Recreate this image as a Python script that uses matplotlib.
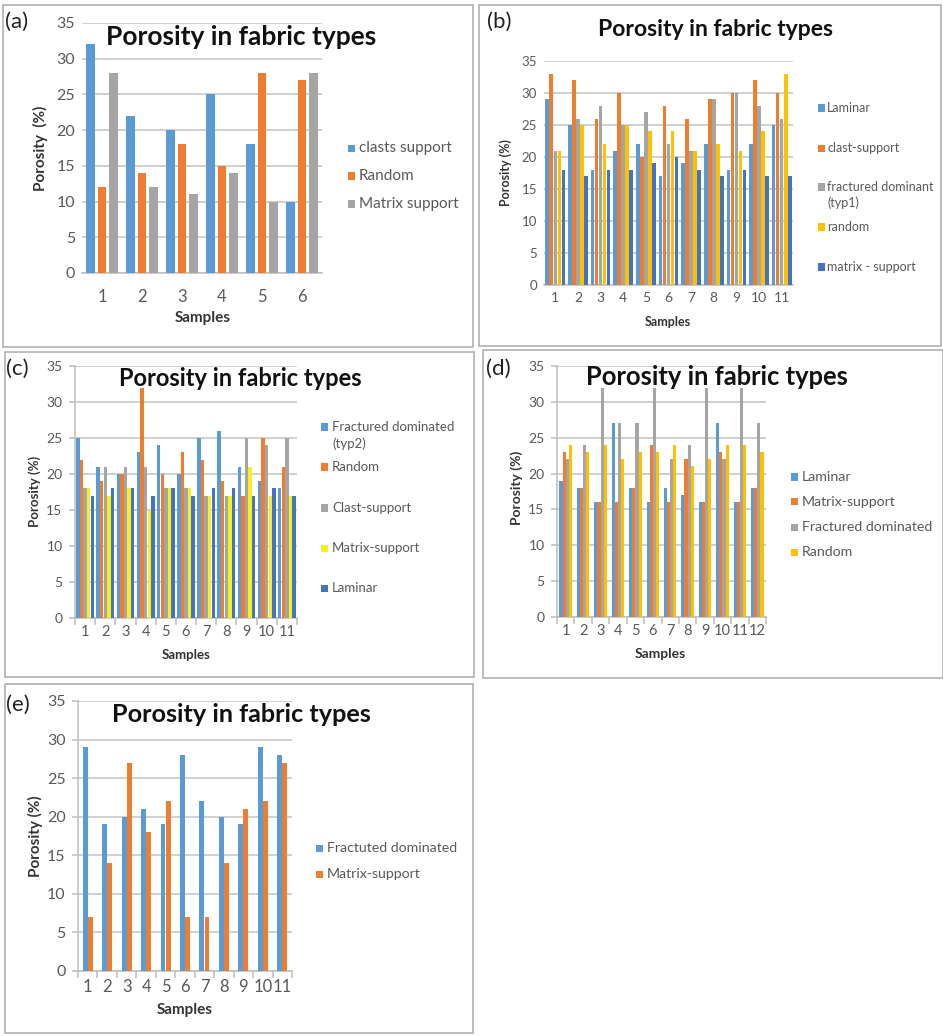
import matplotlib
matplotlib.use('Agg')
import matplotlib.pyplot as plt
from matplotlib.patches import Rectangle
import numpy as np

W, H = 943, 1036
plt.rcParams['font.family'] = ['Lato', 'DejaVu Sans']

TITLE = 'Porosity in fabric types'

# ---- (a) ----
a_samples = ['1', '2', '3', '4', '5', '6']
a_labels = ['clasts support', 'Random', 'Matrix support']
a_clasts = [32, 22, 20, 25, 18, 10]
a_random = [12, 14, 18, 15, 28, 27]
a_matrix = [28, 12, 11, 14, 10, 28]

# ---- (b) ----
b_samples = [str(i) for i in range(1, 12)]
b_labels = ['Laminar', 'clast-support', 'fractured dominant\n(typ1)', 'random', 'matrix - support']
b_laminar = [29, 25, 18, 21, 22, 17, 19, 22, 18, 22, 25]
b_clast = [33, 32, 26, 30, 20, 28, 26, 29, 30, 32, 30]
b_fract = [21, 26, 28, 25, 27, 22, 21, 29, 30, 28, 26]
b_random = [21, 25, 22, 25, 24, 24, 21, 22, 21, 24, 33]
b_matrix = [18, 17, 18, 18, 19, 20, 18, 17, 18, 17, 17]

# ---- (c) ----
c_samples = [str(i) for i in range(1, 12)]
c_labels = ['Fractured dominated\n(typ2)', 'Random', 'Clast-support', 'Matrix-support', 'Laminar']
c_fract = [25, 21, 20, 23, 24, 20, 25, 26, 21, 19, 18]
c_random = [22, 19, 20, 32, 20, 23, 22, 19, 17, 25, 21]
c_clast = [18, 21, 21, 21, 18, 18, 17, 17, 25, 24, 25]
c_matrix = [18, 17, 18, 15, 18, 18, 17, 17, 21, 17, 17]
c_laminar = [17, 18, 18, 17, 18, 17, 18, 18, 17, 18, 17]

# ---- (d) ----
d_samples = [str(i) for i in range(1, 13)]
d_labels = ['Laminar', 'Matrix-support', 'Fractured dominated', 'Random']
d_laminar = [19, 18, 16, 27, 18, 16, 18, 17, 16, 27, 16, 18]
d_matrix = [23, 18, 16, 16, 18, 24, 16, 22, 16, 23, 16, 18]
d_fract = [22, 24, 32, 27, 27, 32, 22, 24, 32, 22, 32, 27]
d_random = [24, 23, 24, 22, 23, 23, 24, 21, 22, 24, 24, 23]

# ---- (e) ----
e_samples = [str(i) for i in range(1, 12)]
e_labels = ['Fractuted dominated', 'Matrix-support']
e_fract = [29, 19, 20, 21, 19, 28, 22, 20, 19, 29, 28]
e_matrix = [7, 14, 27, 18, 22, 7, 7, 14, 21, 22, 27]

BLUE, ORANGE, GREY, GOLD, NAVY, YELLOW = '#5B9BD5', '#ED7D31', '#A5A5A5', '#FFC000', '#4472C4', '#F7F01E'
TXT = '#595959'

fig = plt.figure(figsize=(W / 100, H / 100), dpi=100)


def fx(x):
    return x / W


def fy(y):
    return 1 - y / H


def frame(x0, y0, x1, y1):
    fig.patches.append(Rectangle((fx(x0), fy(y1)), (x1 - x0) / W, (y1 - y0) / H,
                                 transform=fig.transFigure, fill=False,
                                 edgecolor='#B0B0B0', lw=1.2))


def panel(tag, frm, plot, samples, series, labels, colors, width, pitch,
          tag_xy, title_xy, title_fs, ylab, ylab_xy, xlab_xy, lab_fs,
          tick_fs, tick_y, legend_sq_x, legend_tx, legend_ys, legend_fs,
          left_axis, cat_ticks):
    frame(*frm)
    x0, y0, x1, y1 = plot
    ax = fig.add_axes([fx(x0), fy(y1), (x1 - x0) / W, (y1 - y0) / H])
    n = len(samples)
    k = len(series)
    x = np.arange(1, n + 1)
    for i, (vals, col) in enumerate(zip(series, colors)):
        off = (i - (k - 1) / 2) * pitch
        ax.bar(x + off, vals, width=width, color=col, linewidth=0, zorder=3)
    ax.set_xlim(0.5, n + 0.5)
    ax.set_ylim(0, 35)
    ax.set_yticks(range(0, 36, 5))
    ax.grid(axis='y', color='#C4C4C4', lw=1.1, zorder=0)
    for s in ('top', 'right'):
        ax.spines[s].set_visible(False)
    ax.spines['bottom'].set_color('#BDBDBD')
    ax.spines['bottom'].set_linewidth(1.1)
    if left_axis:
        ax.spines['left'].set_color('#BDBDBD')
        ax.spines['left'].set_linewidth(1.1)
        ax.tick_params(axis='y', length=4, color='#BDBDBD', width=1.1)
    else:
        ax.spines['left'].set_visible(False)
        ax.tick_params(axis='y', length=0)
    ax.tick_params(axis='y', labelsize=tick_fs, labelcolor=TXT, pad=5)
    ax.set_xticks(x)
    ax.set_xticklabels([])
    if cat_ticks:
        ax.set_xticks(np.arange(0.5, n + 1, 1.0), minor=True)
        ax.tick_params(axis='x', which='minor', length=5, color='#BDBDBD', width=1.1)
    ax.tick_params(axis='x', which='major', length=0)
    ax.set_facecolor('none')
    for xi, lab in zip(x, samples):
        xp = ax.transData.transform((xi, 0))[0]
        fig.text(xp / W, fy(tick_y), lab, ha='center', va='center',
                 fontsize=tick_fs + 0.5, color=TXT)
    # panel tag, title, axis titles
    fig.text(fx(tag_xy[0]), fy(tag_xy[1]), tag, ha='left', va='center', fontsize=16, color='#222222')
    fig.text(fx(title_xy[0]), fy(title_xy[1]), TITLE, ha='center', va='center',
             fontsize=title_fs, fontweight='bold', color='#111111')
    fig.text(fx(ylab_xy[0]), fy(ylab_xy[1]), ylab, ha='center', va='center',
             rotation=90, fontsize=lab_fs, fontweight='bold', color='#333333')
    fig.text(fx(xlab_xy[0]), fy(xlab_xy[1]), 'Samples', ha='center', va='center',
             fontsize=lab_fs, fontweight='bold', color='#333333')
    # legend
    sq = 7
    for lab, col, ly in zip(labels, colors, legend_ys):
        fig.patches.append(Rectangle((fx(legend_sq_x - sq / 2), fy(ly + sq / 2)), sq / W, sq / H,
                                     transform=fig.transFigure, color=col, lw=0))
        lines = lab.split('\n')
        lh = legend_fs * 1.75
        for j, ln in enumerate(lines):
            fig.text(fx(legend_tx), fy(ly + j * lh), ln, ha='left', va='center',
                     fontsize=legend_fs, color=TXT)
    return ax


panel('(a)', (3, 5, 473, 347), (82, 23, 322, 273), a_samples,
      [a_clasts, a_random, a_matrix], a_labels, [BLUE, ORANGE, GREY],
      width=0.22, pitch=0.28, tag_xy=(5, 22), title_xy=(241, 37), title_fs=19,
      ylab='Porosity  (%)', ylab_xy=(40, 148), xlab_xy=(203, 318), lab_fs=11,
      tick_fs=11.5, tick_y=297, legend_sq_x=351, legend_tx=359,
      legend_ys=[148, 176, 204], legend_fs=11, left_axis=False, cat_ticks=False)

panel('(b)', (479, 5, 941, 346), (544, 61, 793, 285), b_samples,
      [b_laminar, b_clast, b_fract, b_random, b_matrix], b_labels,
      [BLUE, ORANGE, GREY, GOLD, NAVY],
      width=0.16, pitch=0.178, tag_xy=(487, 22), title_xy=(715, 30), title_fs=16.5,
      ylab='Porosity (%)', ylab_xy=(506, 173), xlab_xy=(668, 322), lab_fs=9,
      tick_fs=9.5, tick_y=298, legend_sq_x=821, legend_tx=827,
      legend_ys=[108, 148, 187, 227, 267], legend_fs=9, left_axis=False, cat_ticks=False)

panel('(c)', (5, 352, 474, 677), (75, 366, 297, 618), c_samples,
      [c_fract, c_random, c_clast, c_matrix, c_laminar], c_labels,
      [BLUE, ORANGE, GREY, YELLOW, NAVY],
      width=0.17, pitch=0.178, tag_xy=(6, 369), title_xy=(240, 378), title_fs=17,
      ylab='Porosity (%)', ylab_xy=(35, 491), xlab_xy=(186, 655), lab_fs=9.5,
      tick_fs=10, tick_y=632, legend_sq_x=324, legend_tx=332,
      legend_ys=[427, 467, 508, 548, 588], legend_fs=9.5, left_axis=True, cat_ticks=True)

panel('(d)', (483, 350, 943, 678), (557, 366, 766, 617), d_samples,
      [d_laminar, d_matrix, d_fract, d_random], d_labels,
      [BLUE, ORANGE, GREY, GOLD],
      width=0.18, pitch=0.18, tag_xy=(486, 369), title_xy=(717, 377), title_fs=18.4,
      ylab='Porosity (%)', ylab_xy=(517, 488), xlab_xy=(660, 654), lab_fs=10,
      tick_fs=10, tick_y=631, legend_sq_x=794, legend_tx=802,
      legend_ys=[477, 502, 527, 552], legend_fs=10.2, left_axis=True, cat_ticks=True)

panel('(e)', (5, 684, 473, 1033), (78, 701, 292, 971), e_samples,
      [e_fract, e_matrix], e_labels, [BLUE, ORANGE],
      width=0.25, pitch=0.26, tag_xy=(6, 705), title_xy=(241, 714), title_fs=18.2,
      ylab='Porosity (%)', ylab_xy=(35, 836), xlab_xy=(185, 1010), lab_fs=11,
      tick_fs=11.5, tick_y=987, legend_sq_x=319, legend_tx=327,
      legend_ys=[848, 874], legend_fs=10.2, left_axis=True, cat_ticks=True)

fig.savefig('out.png', dpi=100, facecolor='white')
